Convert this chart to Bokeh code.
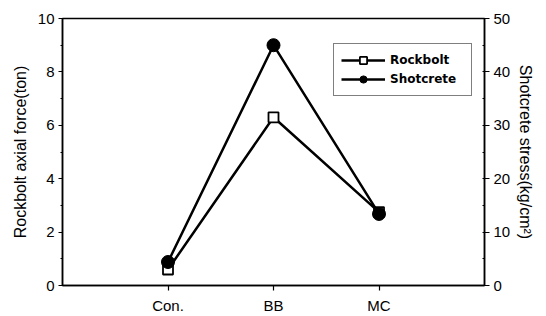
from bokeh.plotting import figure
from bokeh.models import (Range1d, LinearAxis, SingleIntervalTicker, FixedTicker,
                          Legend, LegendItem)
from bokeh.embed import file_html
from bokeh.resources import INLINE

categories = ["Con.", "BB", "MC"]
rockbolt = [0.6, 6.3, 2.75]        # ton (left axis)
shotcrete = [4.4, 45.0, 13.4]      # kg/cm^2 (right axis)
left_ticks = [0, 2, 4, 6, 8, 10]
right_ticks = [0, 10, 20, 30, 40, 50]

xs = [i + 1 for i in range(len(categories))]

FONT = "Liberation Sans"

p = figure(width=546, height=316, output_backend="svg", toolbar_location=None,
           x_range=Range1d(0, len(categories) + 1), y_range=Range1d(0, 10),
           min_border_left=62, min_border_right=62, min_border_top=18,
           min_border_bottom=31)
p.extra_y_ranges = {"shot": Range1d(0, 50)}
p.grid.visible = False
p.outline_line_color = "black"
p.outline_line_width = 1.5
p.background_fill_color = "white"
p.border_fill_color = "white"

# x axis
p.xaxis.ticker = FixedTicker(ticks=xs)
p.xaxis.major_label_overrides = {x: c for x, c in zip(xs, categories)}
p.xaxis.minor_tick_line_color = None
p.xaxis.major_tick_in = 0
p.xaxis.major_tick_out = 5
p.xaxis.major_label_standoff = 6

# left axis
p.yaxis.ticker = SingleIntervalTicker(interval=2, num_minor_ticks=2)
p.yaxis.axis_label = "Rockbolt axial force(ton)"
p.yaxis.major_tick_in = 0
p.yaxis.major_tick_out = 4
p.yaxis.minor_tick_in = 0
p.yaxis.minor_tick_out = 2
p.yaxis.major_label_standoff = 4
p.yaxis.axis_label_standoff = 6

# right axis
ra = LinearAxis(y_range_name="shot",
                ticker=SingleIntervalTicker(interval=10, num_minor_ticks=2),
                axis_label="Shotcrete stress(kg/cm\u00b2)")
ra.major_tick_in = 0
ra.major_tick_out = 5
ra.minor_tick_in = 2
ra.minor_tick_out = 0
ra.major_label_standoff = 4
ra.axis_label_standoff = 4
p.add_layout(ra, "right")

for ax in [p.xaxis[0], p.yaxis[0], ra]:
    ax.axis_line_color = "black"
    ax.axis_line_width = 1.5
    ax.major_tick_line_color = "black"
    ax.major_tick_line_width = 1.2
    ax.minor_tick_line_color = "black" if ax is not p.xaxis[0] else None
    ax.major_label_text_font = FONT
    ax.major_label_text_font_size = "15px"
    ax.major_label_text_color = "black"
    ax.axis_label_text_font = FONT
    ax.axis_label_text_font_size = "16px"
    ax.axis_label_text_font_style = "normal"
    ax.axis_label_text_color = "black"

# series
r_line = p.line(xs, rockbolt, line_color="black", line_width=2.5)
r_mark = p.scatter(xs, rockbolt, marker="square", size=10, fill_color="white",
                   line_color="black", line_width=1.8)
s_line = p.line(xs, shotcrete, line_color="black", line_width=2.5, y_range_name="shot")
s_mark = p.scatter(xs, shotcrete, marker="circle", size=13, fill_color="black",
                   line_color="black", y_range_name="shot")

legend = Legend(items=[LegendItem(label="Rockbolt", renderers=[r_line, r_mark]),
                       LegendItem(label="Shotcrete", renderers=[s_line, s_mark])],
                location=(271, 189))
legend.border_line_color = "black"
legend.border_line_width = 1.5
legend.background_fill_color = "white"
legend.background_fill_alpha = 1
legend.label_text_font = "DejaVu Sans"
legend.label_text_font_style = "bold"
legend.label_text_font_size = "12px"
legend.label_text_color = "black"
legend.glyph_width = 44
legend.glyph_height = 18
legend.label_height = 18
legend.label_width = 74
legend.label_standoff = 5
legend.padding = 7
legend.spacing = 1
legend.margin = 0
p.add_layout(legend, "center")

open("out.html", "w").write(file_html(p, INLINE))
